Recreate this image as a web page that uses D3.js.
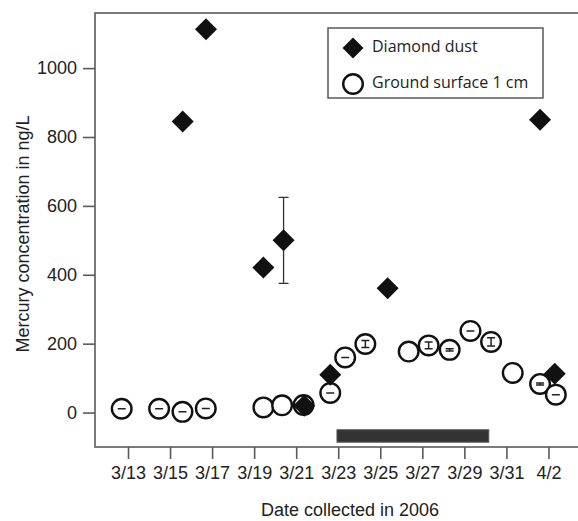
<!DOCTYPE html>
<html>
<head>
<meta charset="utf-8">
<script src="https://cdn.jsdelivr.net/npm/d3@7"></script>
<style>
  html, body { margin: 0; padding: 0; background: #fff; }
  svg { display: block; }
</style>
</head>
<body>
<div id="chart"></div>
<script>
// days counted from March 0 (so 4/2 = 33), fractional = time of day
const dustDay = [15.6, 16.71, 19.44, 20.4, 21.38, 22.62, 25.35, 32.6, 33.3];
const dustHg = [845, 1113, 421, 500, 20, 110, 361, 850, 113];
const dustErr = [null, null, null, 125, null, null, null, null, null];

const groundDay = [12.7, 14.48, 15.59, 16.7, 19.44, 20.33, 21.35, 22.62, 23.33, 24.29,
  26.35, 27.3, 28.3, 29.29, 30.27, 31.3, 32.6, 33.35];
const groundHg = [11, 11, 2, 12, 15, 21, 22, 57, 160, 199, 177, 195, 182, 237, 205, 115, 83, 52];
const groundErr = [0, 0, 0, 0, null, null, null, 0, 0, 10, null, 10, 3, 0, 12, null, 3, 0];

// dark period bar under the points
const periodDays = [22.94, 30.16];
const periodHg = [-50, -86];

const tickDays = [13, 15, 17, 19, 21, 23, 25, 27, 29, 31, 33];
const tickLabels = ["3/13", "3/15", "3/17", "3/19", "3/21", "3/23", "3/25", "3/27", "3/29", "3/31", "4/2"];
const yTicks = [0, 200, 400, 600, 800, 1000];

const width = 578;
const height = 521;
const margin = { top: 13, right: -2, bottom: 74, left: 95 };

const svg = d3.select("#chart")
  .append("svg")
  .attr("width", width)
  .attr("height", height);

const x = d3.scaleLinear()
  .domain([11.43, 34.5])
  .range([margin.left, width - margin.right]);

const y = d3.scaleLinear()
  .domain([-100, 1160])
  .range([height - margin.bottom, margin.top]);

const axisColor = "#5a5a5a";
const tickFont = "'Liberation Sans', Arial, sans-serif";

// frame (right side runs off the picture)
svg.append("rect")
  .attr("x", margin.left)
  .attr("y", margin.top)
  .attr("width", width - margin.right - margin.left + 10)
  .attr("height", height - margin.bottom - margin.top)
  .attr("fill", "none")
  .attr("stroke", axisColor)
  .attr("stroke-width", 1.6);

const xAxis = svg.append("g")
  .attr("transform", `translate(0,${height - margin.bottom})`)
  .call(d3.axisBottom(x).tickValues(tickDays)
    .tickFormat((d, i) => tickLabels[i]).tickSize(12).tickPadding(7));

const yAxis = svg.append("g")
  .attr("transform", `translate(${margin.left},0)`)
  .call(d3.axisLeft(y).tickValues(yTicks).tickFormat(d3.format("d"))
    .tickSize(12).tickPadding(6));

[xAxis, yAxis].forEach((g) => {
  g.select(".domain").remove();
  g.selectAll(".tick line").attr("stroke", axisColor).attr("stroke-width", 1.6);
  g.selectAll(".tick text")
    .attr("fill", "#222")
    .style("font-family", tickFont)
    .style("font-size", "18px");
});

svg.append("text")
  .attr("x", 350)
  .attr("y", 516)
  .attr("text-anchor", "middle")
  .attr("fill", "#222")
  .style("font-family", tickFont)
  .style("font-size", "18px")
  .text("Date collected in 2006");

svg.append("text")
  .attr("transform", "translate(29,234) rotate(-90)")
  .attr("text-anchor", "middle")
  .attr("fill", "#222")
  .style("font-family", tickFont)
  .style("font-size", "18px")
  .text("Mercury concentration in ng/L");

// period bar
svg.append("rect")
  .attr("x", x(periodDays[0]))
  .attr("y", y(periodHg[0]))
  .attr("width", x(periodDays[1]) - x(periodDays[0]))
  .attr("height", y(periodHg[1]) - y(periodHg[0]))
  .attr("fill", "#333")
  .attr("stroke", "#555")
  .attr("stroke-width", 1);

const dust = dustDay.map((d, i) => ({ day: d, v: dustHg[i], err: dustErr[i] }));
const ground = groundDay.map((d, i) => ({ day: d, v: groundHg[i], err: groundErr[i] }));

const diamond = (s) => `M0,${-s}L${s},0L0,${s}L${-s},0Z`;

// error bar on the diamond
svg.append("g")
  .selectAll("path")
  .data(dust.filter((d) => d.err != null))
  .join("path")
  .attr("d", (d) => {
    const cx = x(d.day), t = y(d.v + d.err), b = y(d.v - d.err);
    return `M${cx},${t}V${b}M${cx - 5},${t}H${cx + 5}M${cx - 5},${b}H${cx + 5}`;
  })
  .attr("fill", "none")
  .attr("stroke", "#333")
  .attr("stroke-width", 1.3);

const circles = svg.append("g");
circles.selectAll("circle")
  .data(ground)
  .join("circle")
  .attr("cx", (d) => x(d.day))
  .attr("cy", (d) => y(d.v))
  .attr("r", 9.8)
  .attr("fill", "#fff")
  .attr("stroke", "#111")
  .attr("stroke-width", 2.4);

circles.selectAll("path")
  .data(ground.filter((d) => d.err != null))
  .join("path")
  .attr("d", (d) => {
    const cx = x(d.day), t = y(d.v + d.err), b = y(d.v - d.err);
    let p = `M${cx - 4},${t}H${cx + 4}M${cx - 4},${b}H${cx + 4}`;
    if (d.err > 0) p += `M${cx},${t}V${b}`;
    return p;
  })
  .attr("fill", "none")
  .attr("stroke", "#222")
  .attr("stroke-width", 1.5);

svg.append("g")
  .selectAll("path")
  .data(dust)
  .join("path")
  .attr("transform", (d) => `translate(${x(d.day)},${y(d.v)})`)
  .attr("d", diamond(11))
  .attr("fill", "#111");

// legend
const legend = svg.append("g").attr("transform", "translate(328,28)");
legend.append("rect")
  .attr("width", 215)
  .attr("height", 70)
  .attr("fill", "#fff")
  .attr("stroke", axisColor)
  .attr("stroke-width", 1.5);
legend.append("path")
  .attr("transform", "translate(25,20)")
  .attr("d", diamond(10.5))
  .attr("fill", "#111");
legend.append("circle")
  .attr("cx", 25)
  .attr("cy", 56)
  .attr("r", 9.8)
  .attr("fill", "#fff")
  .attr("stroke", "#111")
  .attr("stroke-width", 2.4);
legend.selectAll("text")
  .data(["Diamond dust", "Ground surface 1 cm"])
  .join("text")
  .attr("x", 44)
  .attr("y", (d, i) => 24 + i * 36)
  .attr("fill", "#222")
  .style("font-family", "'Open Sans', sans-serif")
  .style("font-size", "16px")
  .text((d) => d);
</script>
</body>
</html>
